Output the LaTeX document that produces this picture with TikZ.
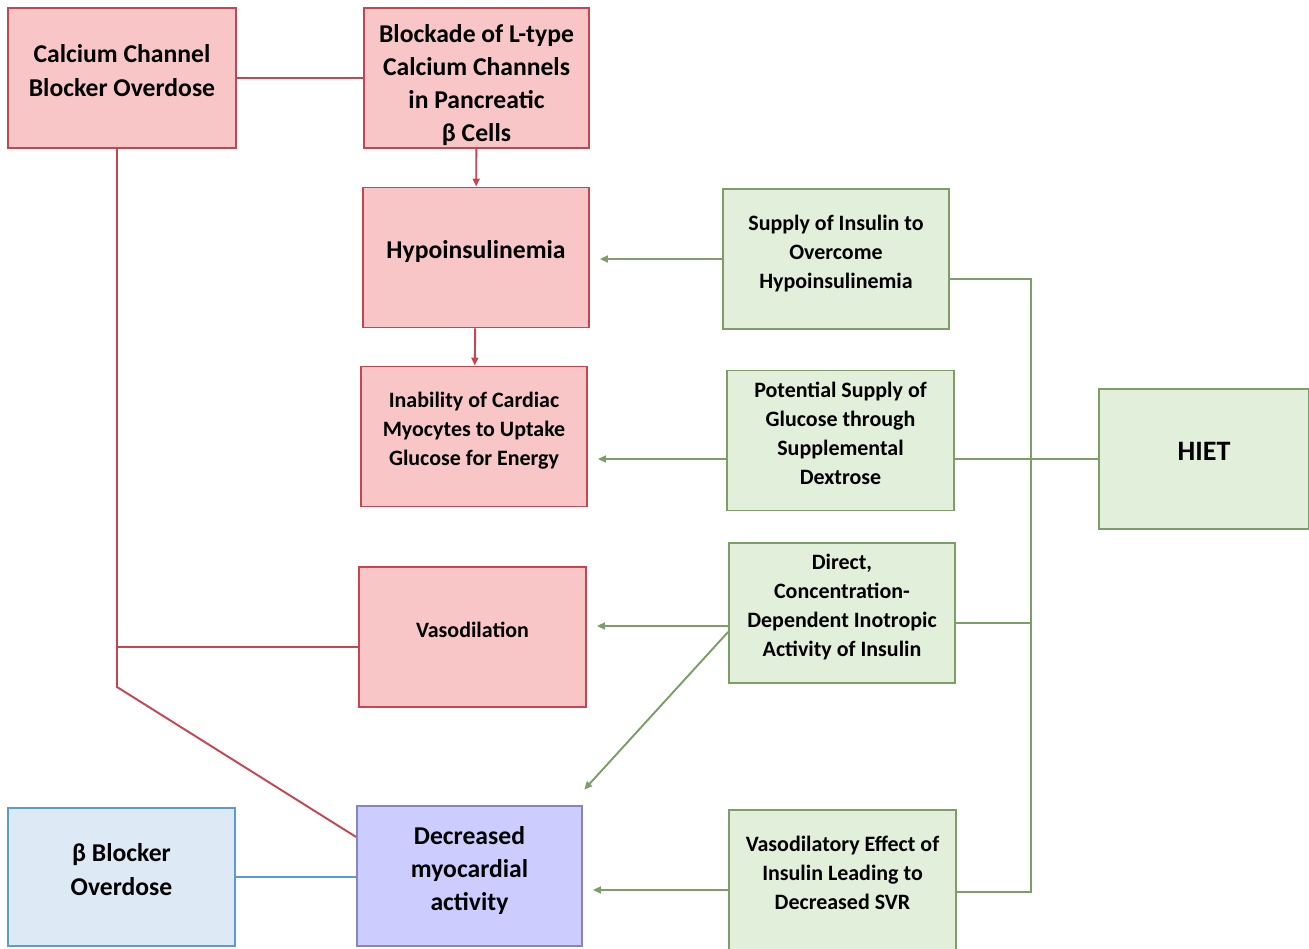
\documentclass[tikz,border=0pt]{standalone}
\usepackage{fontspec}
\setmainfont{Carlito}
\usepackage{xcolor}
\usepackage{tikz}
\usetikzlibrary{arrows.meta, positioning, calc}

\definecolor{ccbfill}{HTML}{F8C6C6}
\definecolor{ccbline}{HTML}{C8454F}
\definecolor{hietfill}{HTML}{E2EFDA}
\definecolor{hietline}{HTML}{7E9E68}
\definecolor{bbfill}{HTML}{DDEAF6}
\definecolor{bbline}{HTML}{5B9BD5}
\definecolor{myofill}{HTML}{CCCCFF}
\definecolor{myoline}{HTML}{8585C6}

\begin{document}
\begin{tikzpicture}[
  x=0.02cm, y=-0.02cm,
  box/.style={draw, line width=1.1pt, minimum width=4.52cm, minimum height=2.8cm, align=center, inner sep=2pt, text depth=0.3cm},
  big/.style={font=\fontsize{14.6}{18.8}\selectfont\bfseries},
  small/.style={font=\fontsize{12.5}{16.5}\selectfont\bfseries},
  redbox/.style={box, fill=ccbfill, draw=ccbline},
  grnbox/.style={box, fill=hietfill, draw=hietline},
  redln/.style={draw=ccbline, line width=1.1pt},
  grnln/.style={draw=hietline, line width=1.1pt},
  redarr/.style={redln, -{Triangle[length=0.16cm, width=0.14cm]}},
  grnarr/.style={grnln, -{Triangle[length=0.16cm, width=0.14cm]}, shorten >=0.2cm}
]
  \useasboundingbox (0,0) rectangle (1309,949);

  % causes
  \node[redbox, big, minimum width=4.56cm] (ccb) at (122,78) {Calcium Channel\\Blocker Overdose};
  \node[redbox, big, minimum width=4.5cm, inner ysep=0pt, text height=2.64cm, text depth=0.1cm] (block) at (476.5,78) {Blockade of L-type\\Calcium Channels\\in Pancreatic\\β Cells};
  \node[redbox, big] (hypo) at (476,257.5) {Hypoinsulinemia};
  \node[redbox, small] (inab) at (474,436.5) {Inability of Cardiac\\Myocytes to Uptake\\Glucose for Energy};
  \node[redbox, small, minimum width=4.54cm] (vaso) at (472.5,637) {Vasodilation};
  \node[box, big, fill=myofill, draw=myoline, minimum width=4.5cm] (myo) at (469.5,876) {Decreased\\myocardial\\activity};
  \node[box, big, fill=bbfill, draw=bbline, minimum width=4.54cm, minimum height=2.76cm] (bbo) at (121.5,877) {β Blocker\\Overdose};

  % therapy
  \node[grnbox, small] (supply) at (836,259) {Supply of Insulin to\\Overcome\\Hypoinsulinemia};
  \node[grnbox, small, minimum width=4.54cm] (gluc) at (840.5,440.5) {Potential Supply of\\Glucose through\\Supplemental\\Dextrose};
  \node[grnbox, small] (inot) at (842,613) {Direct,\\Concentration-\\Dependent Inotropic\\Activity of Insulin};
  \node[grnbox, small, minimum width=4.54cm] (svr) at (842.5,880) {Vasodilatory Effect of\\Insulin Leading to\\Decreased SVR};
  \node[grnbox, font=\fontsize{16}{19}\selectfont\bfseries, minimum width=4.2cm] (hiet) at (1204,459) {HIET};

  \coordinate (knee) at (117,687);
  \coordinate (bus) at (1031,0);
  \coordinate (supout) at ([yshift=-0.4cm]supply.east);
  \coordinate (inotout) at ([yshift=-0.2cm]inot.east);
  \coordinate (svrout) at ([yshift=-0.24cm]svr.east);

  % red side
  \draw[redln] (ccb.east) -- (block.west);
  \draw[redarr] (block) -- (hypo);
  \draw[redarr] (hypo) -- (inab);
  \draw[redln] (ccb.south -| knee) -- (knee) -- (myo.161);
  \draw[redln] ([yshift=-0.2cm]vaso.west -| knee) -- ([yshift=-0.2cm]vaso.west);
  \draw[draw=bbline, line width=1.1pt] (bbo.east) -- (bbo.east -| myo.west);

  % green side
  \draw[grnarr] (supply.west) -- (supply.west -| hypo.east);
  \draw[grnarr] (gluc.west |- hiet.west) -- (inab.east |- hiet.west);
  \draw[grnarr] ([yshift=-0.26cm]inot.west) -- ([yshift=-0.26cm]inot.west -| vaso.east);
  \draw[grnarr, shorten >=0.04cm] ([yshift=-0.38cm]inot.west) -- ([yshift=0.28cm]myo.north east);
  \draw[grnarr] ([yshift=-0.2cm]svr.west) -- ([yshift=-0.2cm]svr.west -| myo.east);
  \draw[grnln] (supout) -| (svrout -| bus) -- (svrout);
  \draw[grnln] (inotout) -- (inotout -| bus);
  \draw[grnln] (gluc.east |- hiet.west) -- (hiet.west);
\end{tikzpicture}
\end{document}
